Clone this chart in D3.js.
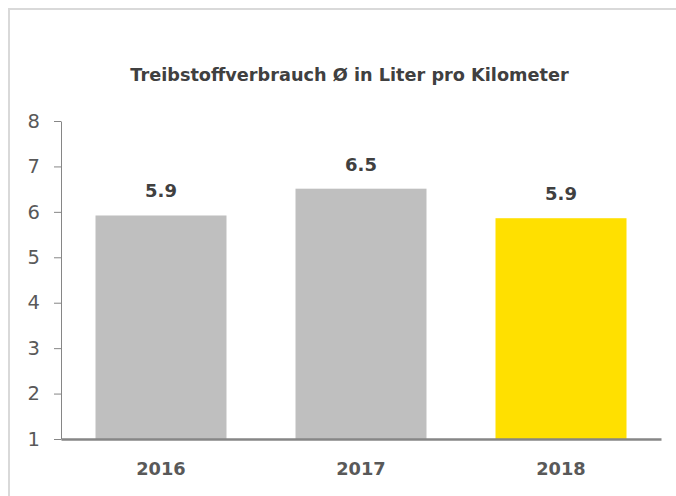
<!DOCTYPE html>
<html>
<head>
<meta charset="utf-8">
<script src="https://cdn.jsdelivr.net/npm/d3@7"></script>
<style>
  body { margin: 0; background: #fff; }
  text { font-family: "DejaVu Sans", sans-serif; }
</style>
</head>
<body>
<div id="chart"></div>
<script>
// chart data
var years = ["2016", "2017", "2018"];
var values = [5.92, 6.51, 5.86];
var barColors = ["#bfbfbf", "#bfbfbf", "#ffe000"];
var yTicks = [1, 2, 3, 4, 5, 6, 7, 8];
var title = "Treibstoffverbrauch Ø in Liter pro Kilometer";

var svgWidth = 676;
var svgHeight = 496;

// plot area in page pixels
var plot = { left: 61, right: 661, top: 121, bottom: 439 };

var svg = d3.select("#chart")
    .append("svg")
    .attr("width", svgWidth)
    .attr("height", svgHeight);

// light frame around the chart, runs off the right and bottom edge
svg.append("rect")
    .attr("x", 9)
    .attr("y", 9)
    .attr("width", svgWidth + 20)
    .attr("height", svgHeight + 20)
    .attr("fill", "#fff")
    .attr("stroke", "#d9d9d9")
    .attr("stroke-width", 2);

// scales
var xScale = d3.scaleBand()
    .domain(years)
    .range([plot.left, plot.right])
    .paddingInner(0.345)
    .paddingOuter(0.1725);

var yScale = d3.scaleLinear()
    .domain([1, 8])
    .range([plot.bottom, plot.top]);

// title
svg.append("text")
    .attr("x", 349.5)
    .attr("y", 81)
    .attr("text-anchor", "middle")
    .attr("font-size", "17.7px")
    .attr("font-weight", "bold")
    .attr("fill", "#404040")
    .text(title);

// bars
svg.selectAll("rect.bar")
    .data(values)
    .enter()
    .append("rect")
    .attr("class", "bar")
    .attr("x", (d, i) => xScale(years[i]))
    .attr("y", d => yScale(d))
    .attr("width", xScale.bandwidth())
    .attr("height", d => yScale(1) - yScale(d))
    .attr("fill", (d, i) => barColors[i]);

// data labels
svg.selectAll("text.value")
    .data(values)
    .enter()
    .append("text")
    .attr("class", "value")
    .attr("x", (d, i) => xScale(years[i]) + xScale.bandwidth() / 2)
    .attr("y", d => yScale(d) - 18)
    .attr("text-anchor", "middle")
    .attr("font-size", "18px")
    .attr("font-weight", "bold")
    .attr("fill", "#404040")
    .text(d => d.toFixed(1));

// y axis
var leftAxis = d3.axisLeft(yScale)
    .tickValues(yTicks)
    .tickFormat(d3.format("d"))
    .tickSize(7)
    .tickSizeOuter(0)
    .tickPadding(14);

var yAxis = svg.append("g")
    .attr("transform", `translate(${plot.left}, 0)`)
    .call(leftAxis);

yAxis.select(".domain").attr("stroke", "#868686");
yAxis.selectAll(".tick line").attr("stroke", "#868686");
yAxis.selectAll(".tick text")
    .attr("font-family", "DejaVu Sans")
    .attr("font-size", "19.5px")
    .attr("fill", "#595959");

// x axis
var bottomAxis = d3.axisBottom(xScale)
    .tickSize(0)
    .tickSizeOuter(0)
    .tickPadding(23);

var xAxis = svg.append("g")
    .attr("transform", `translate(0, ${plot.bottom})`)
    .call(bottomAxis);

xAxis.select(".domain")
    .attr("stroke", "#868686")
    .attr("stroke-width", 2.5);
xAxis.selectAll(".tick text")
    .attr("font-family", "DejaVu Sans")
    .attr("font-size", "17.8px")
    .attr("font-weight", "bold")
    .attr("fill", "#595959");
</script>
</body>
</html>
